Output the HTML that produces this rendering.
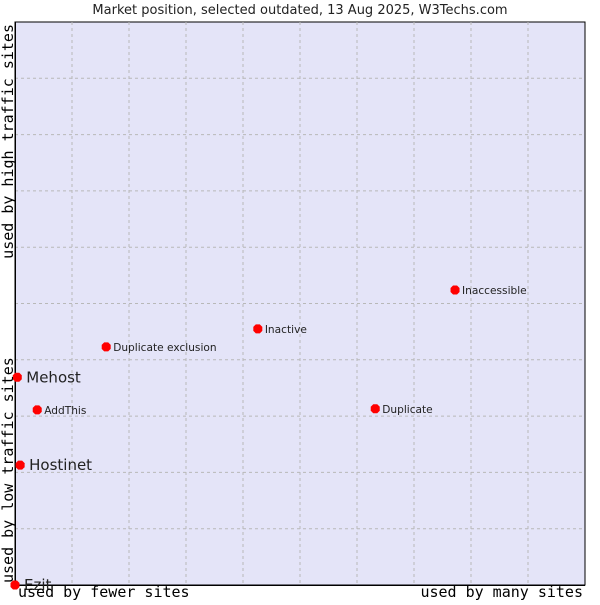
<!DOCTYPE html>
<html><head><meta charset="utf-8"><style>
body{margin:0;background:#fff;width:600px;height:600px;overflow:hidden}
text{font-family:"DejaVu Sans","Liberation Sans",sans-serif}
.mono{font-family:"DejaVu Sans Mono","Liberation Mono",monospace}
</style></head><body>
<svg id="chart" width="600" height="600" xmlns="http://www.w3.org/2000/svg">
<text x="300" y="14" text-anchor="middle" font-size="13" fill="#222">Market position, selected outdated, 13 Aug 2025, W3Techs.com</text>
<rect x="15" y="22" width="570" height="563" fill="#e4e4f8" stroke="#000" stroke-width="1"/>
<g id="grid"></g>
<line x1="15.5" y1="22" x2="15.5" y2="585" stroke="#000"/>
<line x1="15" y1="585.5" x2="585" y2="585.5" stroke="#000"/>
<g id="points"></g>
<text class="mono" x="18" y="597" font-size="15" fill="#000">used by fewer sites</text>
<text class="mono" x="583" y="597" text-anchor="end" font-size="15" fill="#000">used by many sites</text>
<text class="mono" transform="translate(13,24) rotate(-90)" text-anchor="end" font-size="15" fill="#000">used by high traffic sites</text>
<text class="mono" transform="translate(13,583) rotate(-90)" font-size="15" fill="#000">used by low traffic sites</text>
</svg>
<script>
const names=["Inaccessible","Inactive","Duplicate exclusion","Mehost","AddThis","Duplicate","Hostinet","Ezit"];
const xValues=[77.2,42.6,16.0,0.4,3.9,63.2,0.9,0.0];
const yValues=[52.4,45.5,42.3,36.9,31.1,31.3,21.3,0.0];
const bigLabel=[false,false,false,true,false,false,true,true];
const L=15,T=22,W=570,H=563;
const xs=v=>L+v/100*W, ys=v=>T+H-v/100*H;
const NS="http://www.w3.org/2000/svg";
const g=document.getElementById('grid');
for(let i=1;i<10;i++){
 const x=L+i*W/10,y=T+i*H/10;
 const a=document.createElementNS(NS,'line');
 
 
 a.setAttribute('x1',x);a.setAttribute('x2',x);a.setAttribute('y1',T);a.setAttribute('y2',T+H);
 a.setAttribute('stroke','#b8b8b8');a.setAttribute('stroke-dasharray','3,3');g.appendChild(a);
 const b=document.createElementNS(NS,'line');
 
 
 b.setAttribute('x1',L);b.setAttribute('x2',L+W);b.setAttribute('y1',y);b.setAttribute('y2',y);
 b.setAttribute('stroke','#b8b8b8');b.setAttribute('stroke-dasharray','3,3');g.appendChild(b);
}
const p=document.getElementById('points');
names.forEach((n,i)=>{
 const x=xs(xValues[i]),y=ys(yValues[i]);
 const d=document.createElementNS(NS,'polygon');
 
 
 d.setAttribute('points',`${x-2},${y-4.5} ${x+2},${y-4.5} ${x+4.5},${y-2} ${x+4.5},${y+2} ${x+2},${y+4.5} ${x-2},${y+4.5} ${x-4.5},${y+2} ${x-4.5},${y-2}`);
 d.setAttribute('fill','#f00');p.appendChild(d);
 const t=document.createElementNS(NS,'text');
 
 
 const big=bigLabel[i];
 t.setAttribute('x',x+(big?9:7));t.setAttribute('y',y+(big?5:4));
 t.setAttribute('font-size',big?15:10.6);t.setAttribute('fill','#222');
 t.textContent=n;p.appendChild(t);
});
</script>
</body></html>
